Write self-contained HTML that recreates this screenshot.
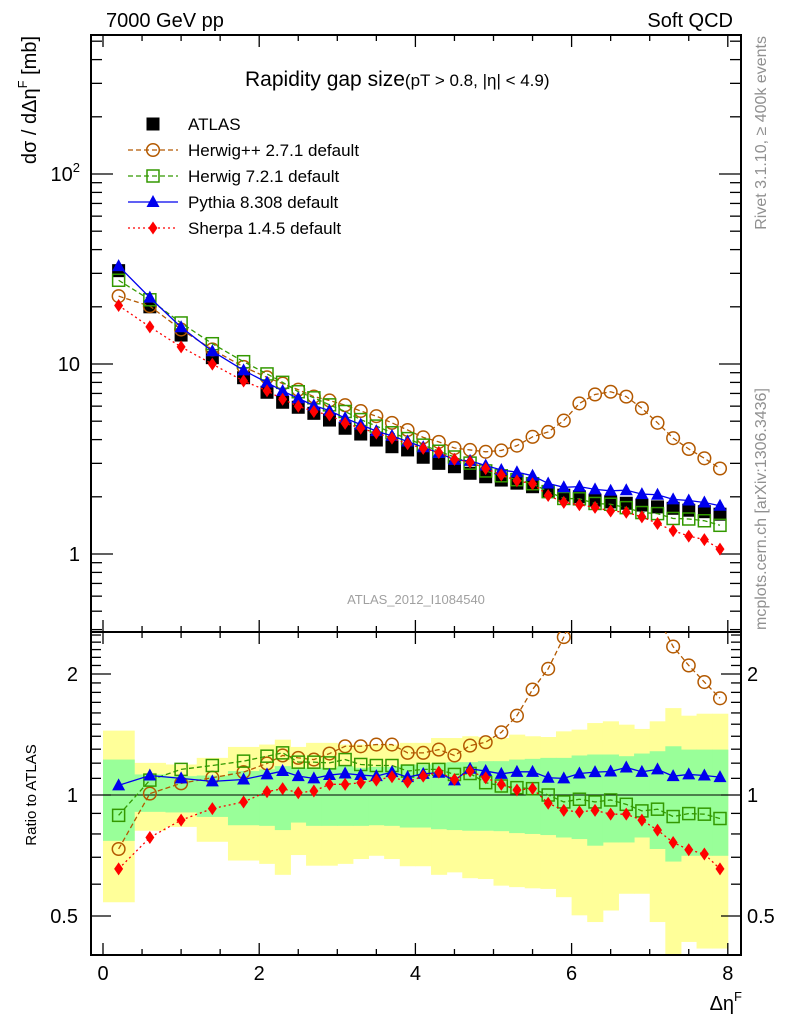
<!DOCTYPE html>
<html><head><meta charset="utf-8"><style>
html,body{margin:0;padding:0;background:#fff;}
svg{display:block;font-family:"Liberation Sans",sans-serif;}
</style></head><body>
<svg id="chart" width="786" height="1024" viewBox="0 0 786 1024">
<g id="bands"></g>
<g id="grid"></g>
<g id="series"></g>
<text x="106" y="27" font-size="20">7000 GeV pp</text>
<text x="733" y="27" font-size="20" text-anchor="end">Soft QCD</text>
<text x="245" y="86" font-size="21">Rapidity gap size<tspan font-size="17">(pT &gt; 0.8, |η| &lt; 4.9)</tspan></text>
<text x="416" y="604" font-size="13" fill="#a0a0a0" text-anchor="middle">ATLAS_2012_I1084540</text>
<text transform="translate(36,36) rotate(-90)" font-size="20" text-anchor="end">dσ / dΔη<tspan font-size="13" dy="-9">F</tspan><tspan dy="9"> [mb]</tspan></text>
<text transform="translate(36,795) rotate(-90)" font-size="15" text-anchor="middle">Ratio to ATLAS</text>
<text x="742" y="1010" font-size="20" text-anchor="end">Δη<tspan font-size="13" dy="-9">F</tspan></text>
<text transform="translate(766,36) rotate(-90)" font-size="16" fill="#909090" text-anchor="end">Rivet 3.1.10, ≥ 400k events</text>
<text transform="translate(766,630) rotate(-90)" font-size="16" fill="#909090" text-anchor="start">mcplots.cern.ch [arXiv:1306.3436]</text>
<g id="legend"></g>
</svg>
<script>
const xCenters=[0.2,0.6,1.0,1.4,1.8,2.1,2.3,2.5,2.7,2.9,3.1,3.3,3.5,3.7,3.9,4.1,4.3,4.5,4.7,4.9,5.1,5.3,5.5,5.7,5.9,6.1,6.3,6.5,6.7,6.9,7.1,7.3,7.5,7.7,7.9];
const binEdges=[0,0.4,0.8,1.2,1.6,2.0,2.2,2.4,2.6,2.8,3.0,3.2,3.4,3.6,3.8,4.0,4.2,4.4,4.6,4.8,5.0,5.2,5.4,5.6,5.8,6.0,6.2,6.4,6.6,6.8,7.0,7.2,7.4,7.6,7.8,8.0];
const atlas=[31,20.0,14.2,10.8,8.47,7.1,6.29,5.92,5.5,5.07,4.59,4.28,3.98,3.67,3.53,3.23,3.0,2.88,2.66,2.55,2.45,2.36,2.26,2.13,2.04,2.0,1.92,1.88,1.85,1.81,1.77,1.74,1.70,1.67,1.62];
const herwigppRatio=[0.734,1.008,1.069,1.104,1.14,1.198,1.254,1.237,1.225,1.268,1.322,1.322,1.335,1.335,1.273,1.273,1.297,1.254,1.327,1.353,1.432,1.575,1.83,2.06,2.47,3.1,3.6,3.8,3.64,3.23,2.77,2.34,2.10,1.91,1.74];
const herwig7Ratio=[0.890,1.089,1.158,1.184,1.214,1.249,1.273,1.207,1.207,1.202,1.225,1.191,1.184,1.184,1.147,1.158,1.158,1.125,1.131,1.073,1.053,1.043,1.037,1.0,0.961,0.976,0.961,0.972,0.948,0.913,0.922,0.884,0.899,0.896,0.874];
const pythiaRatio=[1.057,1.118,1.100,1.081,1.093,1.125,1.147,1.114,1.1,1.121,1.131,1.121,1.114,1.140,1.108,1.129,1.136,1.087,1.162,1.147,1.129,1.142,1.142,1.104,1.1,1.131,1.140,1.144,1.171,1.142,1.158,1.114,1.125,1.118,1.108];
const sherpaRatio=[0.655,0.784,0.866,0.925,0.961,1.019,1.037,1.013,1.023,1.063,1.063,1.073,1.089,1.11,1.077,1.114,1.14,1.093,1.147,1.104,1.063,1.029,1.037,0.954,0.916,0.908,0.916,0.896,0.896,0.866,0.818,0.762,0.731,0.713,0.655];
const yellowHi=[1.446,1.202,1.191,1.237,1.317,1.335,1.373,1.317,1.348,1.348,1.335,1.335,1.335,1.335,1.348,1.348,1.386,1.386,1.4,1.394,1.386,1.413,1.4,1.394,1.44,1.454,1.51,1.525,1.496,1.46,1.525,1.645,1.575,1.593,1.593];
const yellowLo=[0.541,0.815,0.833,0.765,0.687,0.674,0.633,0.709,0.667,0.667,0.674,0.693,0.706,0.693,0.665,0.665,0.633,0.642,0.621,0.618,0.595,0.590,0.586,0.584,0.557,0.502,0.483,0.516,0.568,0.568,0.483,0.38,0.431,0.415,0.415];
const greenHi=[1.225,1.125,1.114,1.118,1.147,1.158,1.18,1.169,1.169,1.169,1.18,1.169,1.175,1.175,1.191,1.191,1.202,1.207,1.207,1.214,1.214,1.225,1.230,1.237,1.237,1.254,1.261,1.261,1.249,1.268,1.285,1.322,1.297,1.297,1.297];
const greenLo=[0.769,0.908,0.905,0.882,0.841,0.838,0.818,0.854,0.838,0.838,0.838,0.838,0.841,0.838,0.830,0.830,0.822,0.818,0.815,0.815,0.813,0.804,0.80,0.795,0.784,0.777,0.748,0.762,0.762,0.784,0.734,0.683,0.706,0.706,0.706];
const mainTicks=[1,10,100];
const mainTickLabels=["1","10","10²"];
const ratioTicks=[0.5,1,2];
const ratioTickLabels=["0.5","1","2"];
const xTicks=[0,2,4,6,8];

const NS="http://www.w3.org/2000/svg";
const L=91,R=741,T=35,MB=632,B=955;
const X=v=>103+78.1*v;
const YM=v=>554-190*Math.log10(v);
const YR=r=>795-402*Math.log10(r);
function el(tag,attrs,parent){const e=document.createElementNS(NS,tag);for(const k in attrs)e.setAttribute(k,attrs[k]);parent.appendChild(e);return e;}
const svg=document.getElementById('chart');
const defs=el('defs',{},svg);
const c1=el('clipPath',{id:'cm'},defs);el('rect',{x:L,y:T,width:R-L,height:MB-T},c1);
const c2=el('clipPath',{id:'cr'},defs);el('rect',{x:L,y:MB,width:R-L,height:B-MB},c2);

const bands=document.getElementById('bands');bands.setAttribute('clip-path','url(#cr)');
for(let i=0;i<xCenters.length;i++){
  const x0=X(binEdges[i]),x1=X(binEdges[i+1]);
  const y=el('rect',{x:x0,y:YR(yellowHi[i]),width:x1-x0+0.5,height:YR(yellowLo[i])-YR(yellowHi[i]),fill:'#ffff99'},bands);
  
  
}
for(let i=0;i<xCenters.length;i++){
  const x0=X(binEdges[i]),x1=X(binEdges[i+1]);
  const g=el('rect',{x:x0,y:YR(greenHi[i]),width:x1-x0+0.5,height:YR(greenLo[i])-YR(greenHi[i]),fill:'#99ff99'},bands);
  
  
}

const grid=document.getElementById('grid');
el('rect',{x:L,y:T,width:R-L,height:B-T,fill:'none',stroke:'#000','stroke-width':2},grid);
el('line',{x1:L,y1:MB,x2:R,y2:MB,stroke:'#000','stroke-width':2},grid);
el('line',{x1:L,y1:YR(1),x2:R,y2:YR(1),stroke:'#000','stroke-width':1},grid);
for(let v=0;v<=8.001;v+=0.5){
  const major=Math.abs(v-Math.round(v/2)*2)<1e-6;const len=major?12:6;const x=X(v);
  for(const [ya,dir] of [[T,1],[MB,-1],[MB,1],[B,-1]]) el('line',{x1:x,y1:ya,x2:x,y2:ya+dir*len,stroke:'#000','stroke-width':1.3},grid);
}
xTicks.forEach(v=>{const t=el('text',{x:X(v),y:980,'font-size':20,'text-anchor':'middle'},grid);t.textContent=v;
  
  });
for(let d=-1;d<=2;d++)for(let m=1;m<10;m++){const v=m*Math.pow(10,d);const y=YM(v);if(y<T||y>MB)continue;const len=m===1?22:11;
  el('line',{x1:L,y1:y,x2:L+len,y2:y,stroke:'#000','stroke-width':1.3},grid);el('line',{x1:R,y1:y,x2:R-len,y2:y,stroke:'#000','stroke-width':1.3},grid);}
mainTicks.forEach((v,i)=>{const t=el('text',{x:80,y:YM(v)+7,'font-size':20,'text-anchor':'end'},grid);
  if(v===100){t.textContent='10';const s=el('tspan',{'font-size':13,dy:-9},t);s.textContent='2';}else t.textContent=mainTickLabels[i];
  
  });
for(let r=0.4;r<=2.55;r+=0.1){const y=YR(r);if(y<MB||y>B)continue;const major=[0.5,1,2].some(q=>Math.abs(q-r)<1e-6);const len=major?20:10;
  el('line',{x1:L,y1:y,x2:L+len,y2:y,stroke:'#000','stroke-width':1.3},grid);el('line',{x1:R,y1:y,x2:R-len,y2:y,stroke:'#000','stroke-width':1.3},grid);}
ratioTicks.forEach((v,i)=>{const t=el('text',{x:78,y:YR(v)+7,'font-size':20,'text-anchor':'end'},grid);t.textContent=ratioTickLabels[i];
  
  
  const t2=el('text',{x:747,y:YR(v)+7,'font-size':20},grid);t2.textContent=ratioTickLabels[i];
  
  });

function marker(type,x,y,color,parent){
  if(type==='sq') return el('rect',{x:x-6.5,y:y-6.5,width:13,height:13,fill:'#000'},parent);
  if(type==='osq') return el('rect',{x:x-6,y:y-6,width:12,height:12,fill:'none',stroke:color,'stroke-width':1.5},parent);
  if(type==='circ') return el('circle',{cx:x,cy:y,r:6.3,fill:'none',stroke:color,'stroke-width':1.5},parent);
  if(type==='tri') return el('path',{d:`M${x},${y-7}L${x+6.5},${y+5}L${x-6.5},${y+5}Z`,fill:color},parent);
  if(type==='dia') return el('path',{d:`M${x},${y-6.5}L${x+4.5},${y}L${x},${y+6.5}L${x-4.5},${y}Z`,fill:color},parent);
}
const series=document.getElementById('series');
const gm=el('g',{'clip-path':'url(#cm)'},series);
const gr=el('g',{'clip-path':'url(#cr)'},series);
atlas.forEach((v,i)=>{const m=marker('sq',X(xCenters[i]),YM(v),'#000',gm);
  
  });
const mcs=[
 {name:'herwigpp',ratio:herwigppRatio,color:'#b35900',dash:'5,3',type:'circ'},
 {name:'herwig7',ratio:herwig7Ratio,color:'#339900',dash:'5,3',type:'osq'},
 {name:'pythia',ratio:pythiaRatio,color:'#0000ee',dash:'',type:'tri'},
 {name:'sherpa',ratio:sherpaRatio,color:'#ff0000',dash:'2,3',type:'dia'}
];
mcs.forEach(s=>{
  const pm=s.ratio.map((r,i)=>X(xCenters[i])+','+YM(r*atlas[i])).join(' ');
  const pr=s.ratio.map((r,i)=>X(xCenters[i])+','+YR(r)).join(' ');
  const l1=el('polyline',{points:pm,fill:'none',stroke:s.color,'stroke-width':1.3,'stroke-dasharray':s.dash},gm);
  
  
  const l2=el('polyline',{points:pr,fill:'none',stroke:s.color,'stroke-width':1.3,'stroke-dasharray':s.dash},gr);
  
  
  s.ratio.forEach((r,i)=>{
    const a=marker(s.type,X(xCenters[i]),YM(r*atlas[i]),s.color,gm);
    
    
    const b=marker(s.type,X(xCenters[i]),YR(r),s.color,gr);
    
    
  });
});

const lg=document.getElementById('legend');
const entries=[['ATLAS',null],['Herwig++ 2.7.1 default',mcs[0]],['Herwig 7.2.1 default',mcs[1]],['Pythia 8.308 default',mcs[2]],['Sherpa 1.4.5 default',mcs[3]]];
entries.forEach((e,i)=>{
  const y=124+i*26;
  const g=el('g',{},lg);
  
  
  if(e[1]){el('line',{x1:128,y1:y,x2:178,y2:y,stroke:e[1].color,'stroke-width':1.3,'stroke-dasharray':e[1].dash},g);marker(e[1].type,153,y,e[1].color,g);}
  else marker('sq',153,y,'#000',g);
  const t=el('text',{x:188,y:y+6,'font-size':17},g);t.textContent=e[0];
});
</script>
</body></html>
